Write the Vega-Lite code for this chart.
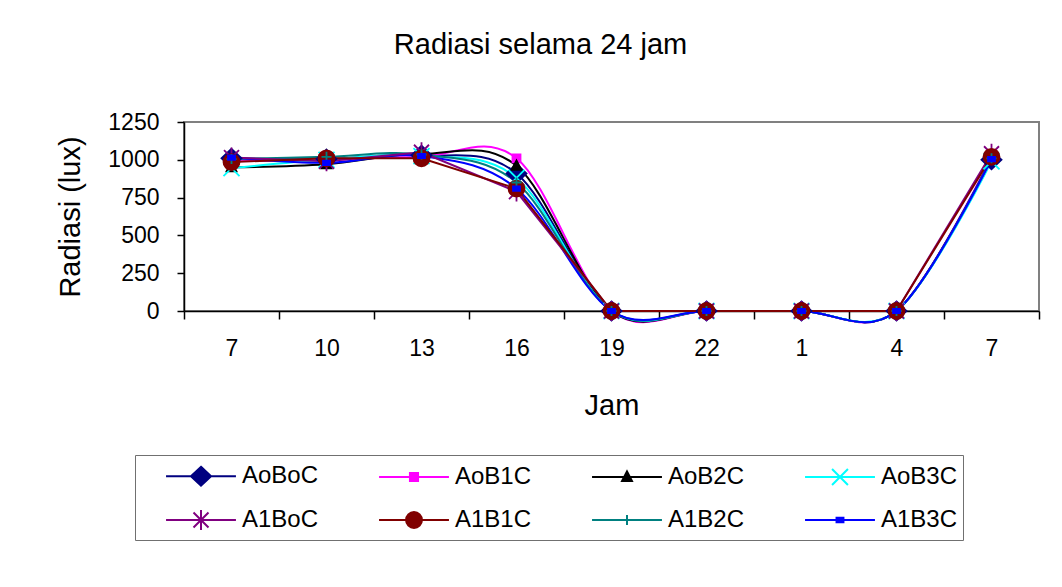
{
  "$schema": "https://vega.github.io/schema/vega-lite/v6.json",
  "autosize": "none",
  "width": 855,
  "height": 189,
  "padding": {"left": 184, "top": 122, "right": 23, "bottom": 276},
  "background": "white",
  "title": {"text": "Radiasi selama 24 jam", "fontSize": 29, "fontWeight": "normal", "font": "Liberation Sans", "color": "black", "offset": 51, "dx": -71, "anchor": "middle"},
  "config": {
    "font": "Liberation Sans",
    "view": {"stroke": "#808080", "strokeWidth": 2},
    "axis": {"domainColor": "black", "domainWidth": 1.5, "tickColor": "black", "tickWidth": 1.5, "labelColor": "black", "titleColor": "black", "labelFont": "Liberation Sans", "titleFont": "Liberation Sans", "titleFontWeight": "normal", "grid": false},
    "legend": {"orient": "none", "legendX": -49, "legendY": 333, "direction": "horizontal", "columns": 4, "symbolSize": 900, "symbolStrokeWidth": 2, "symbolOffset": 45, "labelOffset": 25, "labelFontSize": 24, "labelFont": "Liberation Sans", "labelColor": "black", "rowPadding": 14, "columnPadding": 34, "padding": 5, "strokeColor": "#707070", "labelLimit": 0}
  },
  "data": {"values": [
    {"jam": "7", "series": "AoBoC", "radiasi": 1010}, {"jam": "10", "series": "AoBoC", "radiasi": 1005}, {"jam": "13", "series": "AoBoC", "radiasi": 1030}, {"jam": "16", "series": "AoBoC", "radiasi": 910}, {"jam": "19", "series": "AoBoC", "radiasi": 0}, {"jam": "22", "series": "AoBoC", "radiasi": 0}, {"jam": "1", "series": "AoBoC", "radiasi": 0}, {"jam": "4", "series": "AoBoC", "radiasi": 0}, {"jam": "7 ", "series": "AoBoC", "radiasi": 1000},
    {"jam": "7", "series": "AoB1C", "radiasi": 990}, {"jam": "10", "series": "AoB1C", "radiasi": 1000}, {"jam": "13", "series": "AoB1C", "radiasi": 1020}, {"jam": "16", "series": "AoB1C", "radiasi": 1010}, {"jam": "19", "series": "AoB1C", "radiasi": 0}, {"jam": "22", "series": "AoB1C", "radiasi": 0}, {"jam": "1", "series": "AoB1C", "radiasi": 0}, {"jam": "4", "series": "AoB1C", "radiasi": 0}, {"jam": "7 ", "series": "AoB1C", "radiasi": 1020},
    {"jam": "7", "series": "AoB2C", "radiasi": 950}, {"jam": "10", "series": "AoB2C", "radiasi": 970}, {"jam": "13", "series": "AoB2C", "radiasi": 1040}, {"jam": "16", "series": "AoB2C", "radiasi": 960}, {"jam": "19", "series": "AoB2C", "radiasi": 0}, {"jam": "22", "series": "AoB2C", "radiasi": 0}, {"jam": "1", "series": "AoB2C", "radiasi": 0}, {"jam": "4", "series": "AoB2C", "radiasi": 0}, {"jam": "7 ", "series": "AoB2C", "radiasi": 1010},
    {"jam": "7", "series": "AoB3C", "radiasi": 945}, {"jam": "10", "series": "AoB3C", "radiasi": 1000}, {"jam": "13", "series": "AoB3C", "radiasi": 1025}, {"jam": "16", "series": "AoB3C", "radiasi": 880}, {"jam": "19", "series": "AoB3C", "radiasi": 0}, {"jam": "22", "series": "AoB3C", "radiasi": 0}, {"jam": "1", "series": "AoB3C", "radiasi": 0}, {"jam": "4", "series": "AoB3C", "radiasi": 0}, {"jam": "7 ", "series": "AoB3C", "radiasi": 990},
    {"jam": "7", "series": "A1BoC", "radiasi": 1015}, {"jam": "10", "series": "A1BoC", "radiasi": 990}, {"jam": "13", "series": "A1BoC", "radiasi": 1050}, {"jam": "16", "series": "A1BoC", "radiasi": 790}, {"jam": "19", "series": "A1BoC", "radiasi": 0}, {"jam": "22", "series": "A1BoC", "radiasi": 0}, {"jam": "1", "series": "A1BoC", "radiasi": 0}, {"jam": "4", "series": "A1BoC", "radiasi": 0}, {"jam": "7 ", "series": "A1BoC", "radiasi": 1040},
    {"jam": "7", "series": "A1B1C", "radiasi": 985}, {"jam": "10", "series": "A1B1C", "radiasi": 1010}, {"jam": "13", "series": "A1B1C", "radiasi": 1010}, {"jam": "16", "series": "A1B1C", "radiasi": 810}, {"jam": "19", "series": "A1B1C", "radiasi": 0}, {"jam": "22", "series": "A1B1C", "radiasi": 0}, {"jam": "1", "series": "A1B1C", "radiasi": 0}, {"jam": "4", "series": "A1B1C", "radiasi": 0}, {"jam": "7 ", "series": "A1B1C", "radiasi": 1020},
    {"jam": "7", "series": "A1B2C", "radiasi": 1005}, {"jam": "10", "series": "A1B2C", "radiasi": 1020}, {"jam": "13", "series": "A1B2C", "radiasi": 1035}, {"jam": "16", "series": "A1B2C", "radiasi": 850}, {"jam": "19", "series": "A1B2C", "radiasi": 0}, {"jam": "22", "series": "A1B2C", "radiasi": 0}, {"jam": "1", "series": "A1B2C", "radiasi": 0}, {"jam": "4", "series": "A1B2C", "radiasi": 0}, {"jam": "7 ", "series": "A1B2C", "radiasi": 1010},
    {"jam": "7", "series": "A1B3C", "radiasi": 1015}, {"jam": "10", "series": "A1B3C", "radiasi": 980}, {"jam": "13", "series": "A1B3C", "radiasi": 1025}, {"jam": "16", "series": "A1B3C", "radiasi": 810}, {"jam": "19", "series": "A1B3C", "radiasi": 0}, {"jam": "22", "series": "A1B3C", "radiasi": 0}, {"jam": "1", "series": "A1B3C", "radiasi": 0}, {"jam": "4", "series": "A1B3C", "radiasi": 0}, {"jam": "7 ", "series": "A1B3C", "radiasi": 1005}
  ]},
  "encoding": {
    "x": {"field": "jam", "type": "ordinal", "sort": ["7", "10", "13", "16", "19", "22", "1", "4", "7 "], "bandPosition": 0.5,
      "scale": {"type": "band", "paddingInner": 0, "paddingOuter": 0},
      "axis": {"title": "Jam", "labelAngle": 0, "tickBand": "extent", "tickSize": 8, "labelFontSize": 23, "labelPadding": 18, "titleFontSize": 29, "titlePadding": 31}},
    "y": {"field": "radiasi", "type": "quantitative",
      "scale": {"domain": [0, 1250], "nice": false},
      "axis": {"title": "Radiasi (lux)", "format": "d", "values": [0, 250, 500, 750, 1000, 1250], "tickSize": 7, "labelFontSize": 23, "labelPadding": 18, "titleFontSize": 29, "titlePadding": 22}}
  },
  "resolve": {"scale": {"stroke": "independent", "fill": "independent", "shape": "independent"}},
  "layer": [
    {
      "transform": [{"filter": "datum.series !== 'A1BoC' && datum.series !== 'A1B1C'"}],
      "mark": {"type": "line", "interpolate": "cardinal", "tension": 0, "strokeWidth": 2},
      "encoding": {
        "stroke": {"field": "series", "type": "nominal", "legend": null,
          "scale": {"domain": ["AoBoC", "AoB1C", "AoB2C", "AoB3C", "A1BoC", "A1B1C", "A1B2C", "A1B3C"], "range": ["#000080", "#FF00FF", "#000000", "#00FFFF", "#800080", "#800000", "#008080", "#0000FF"]}}
      }
    },
    {
      "transform": [{"filter": "datum.series === 'A1BoC' || datum.series === 'A1B1C'"}],
      "mark": {"type": "line", "interpolate": "linear", "strokeWidth": 2},
      "encoding": {
        "stroke": {"field": "series", "type": "nominal", "legend": null,
          "scale": {"domain": ["AoBoC", "AoB1C", "AoB2C", "AoB3C", "A1BoC", "A1B1C", "A1B2C", "A1B3C"], "range": ["#000080", "#FF00FF", "#000000", "#00FFFF", "#800080", "#800000", "#008080", "#0000FF"]}}
      }
    },
    {
      "mark": {"type": "point", "filled": true, "opacity": 1, "size": 400, "strokeWidth": 1.8},
      "encoding": {
        "fill": {"field": "series", "type": "nominal", "legend": null,
          "scale": {"domain": ["AoBoC", "AoB1C", "AoB2C", "AoB3C", "A1BoC", "A1B1C", "A1B2C", "A1B3C"], "range": ["#000080", "#FF00FF", "#000000", "#00FFFF", "#800080", "#800000", "#008080", "#0000FF"]}},
        "stroke": {"field": "series", "type": "nominal", "legend": null,
          "scale": {"domain": ["AoBoC", "AoB1C", "AoB2C", "AoB3C", "A1BoC", "A1B1C", "A1B2C", "A1B3C"], "range": ["#000080", "#FF00FF", "#000000", "#00FFFF", "#800080", "#800000", "#008080", "#0000FF"]}},
        "shape": {"field": "series", "type": "nominal", "legend": null,
          "scale": {"domain": ["AoBoC", "AoB1C", "AoB2C", "AoB3C", "A1BoC", "A1B1C", "A1B2C", "A1B3C"], "range": [
            "M0,-0.95L1,0L0,0.95L-1,0Z",
            "M-0.4,-0.4H0.4V0.4H-0.4Z",
            "M0,-0.55L0.5,0.4H-0.5Z",
            "M-0.8,-0.8L0.8,0.8M-0.8,0.8L0.8,-0.8",
            "M-0.75,-0.75L0.75,0.75M-0.75,0.75L0.75,-0.75M0,-1V1",
            "M-0.8,0A0.8,0.8,0,1,0,0.8,0A0.8,0.8,0,1,0,-0.8,0Z",
            "M-0.5,0H0.5M0,-0.5V0.5",
            "M-0.35,-0.22H0.35V0.22H-0.35Z"]}}
      }
    },
    {
      "transform": [{"filter": "false"}],
      "mark": {"type": "point", "filled": true, "opacity": 1, "size": 900, "strokeWidth": 2},
      "encoding": {
        "fill": {"field": "series", "type": "nominal", "legend": {"title": null},
          "scale": {"domain": ["AoBoC", "AoB1C", "AoB2C", "AoB3C", "A1BoC", "A1B1C", "A1B2C", "A1B3C"], "range": ["#000080", "#FF00FF", "#000000", "#00FFFF", "#800080", "#800000", "#008080", "#0000FF"]}},
        "stroke": {"field": "series", "type": "nominal", "legend": {"title": null},
          "scale": {"domain": ["AoBoC", "AoB1C", "AoB2C", "AoB3C", "A1BoC", "A1B1C", "A1B2C", "A1B3C"], "range": ["#000080", "#FF00FF", "#000000", "#00FFFF", "#800080", "#800000", "#008080", "#0000FF"]}},
        "shape": {"field": "series", "type": "nominal", "legend": {"title": null},
          "scale": {"domain": ["AoBoC", "AoB1C", "AoB2C", "AoB3C", "A1BoC", "A1B1C", "A1B2C", "A1B3C"], "range": [
            "M-2.33,0H2.33M0,-0.63L0.67,0L0,0.63L-0.67,0Z",
            "M-2.33,0H2.33M-0.27,-0.27H0.27V0.27H-0.27Z",
            "M-2.33,0H2.33M0,-0.37L0.33,0.27H-0.33Z",
            "M-2.33,0H2.33M-0.53,-0.53L0.53,0.53M-0.53,0.53L0.53,-0.53",
            "M-2.33,0H2.33M-0.5,-0.5L0.5,0.5M-0.5,0.5L0.5,-0.5M0,-0.67V0.67",
            "M-2.33,0H2.33M-0.53,0A0.53,0.53,0,1,0,0.53,0A0.53,0.53,0,1,0,-0.53,0Z",
            "M-2.33,0H2.33M-0.33,0H0.33M0,-0.33V0.33",
            "M-2.33,0H2.33M-0.23,-0.15H0.23V0.15H-0.23Z"]}}
      }
    }
  ]
}
